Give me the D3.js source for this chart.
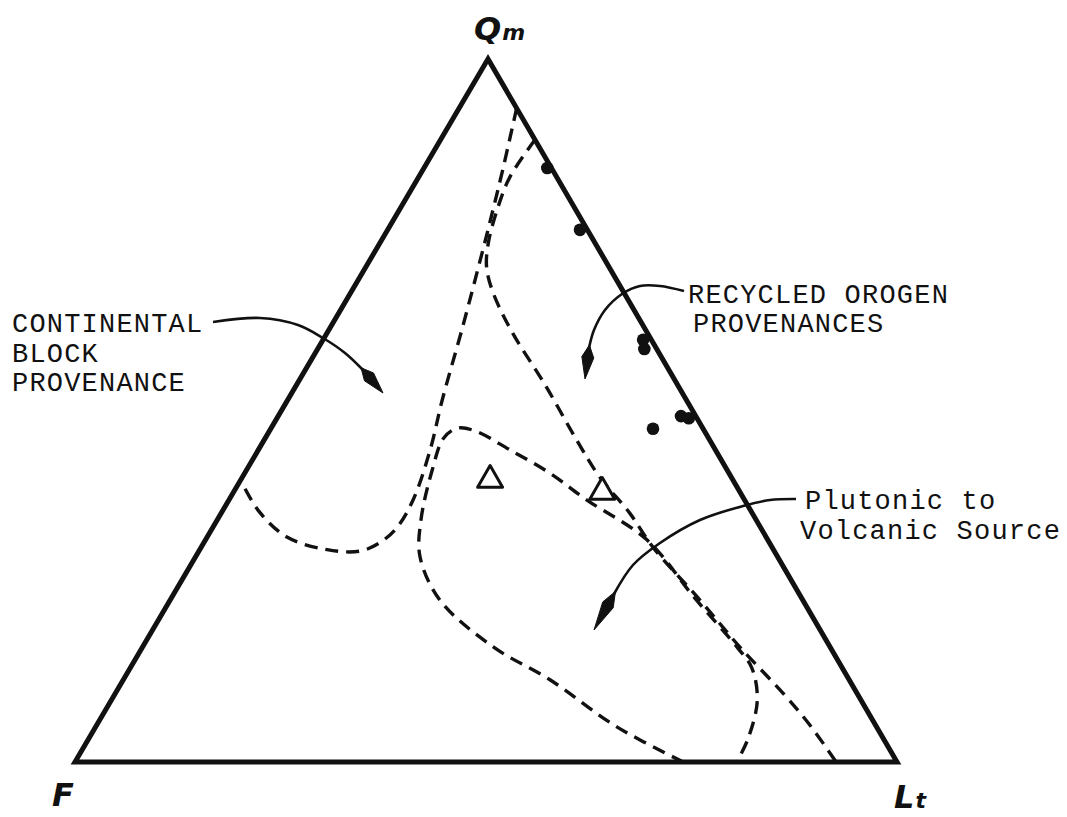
<!DOCTYPE html>
<html>
<head>
<meta charset="utf-8">
<script src="https://cdn.jsdelivr.net/npm/d3@7"></script>
<style>
  html, body { margin: 0; padding: 0; background: #fff; }
  svg { display: block; }
</style>
</head>
<body>
<svg id="chart" width="1067" height="817"></svg>
<script>
// Qm-F-Lt ternary diagram: compositions are [Qm, F, Lt] in percent.
const vertexNames = ["Q", "F", "L"];
const vertexSubs = ["m", "", "t"];

// Field boundaries (dashed)
const continentalBoundary = [
  [93.0, 0.0, 7.0], [84.6, 5.8, 9.6], [78.5, 10.1, 11.4], [72.8, 14.1, 13.0],
  [61.5, 22.4, 16.2], [51.5, 29.7, 18.8], [44.4, 34.7, 20.9], [37.3, 40.3, 22.4],
  [33.3, 44.3, 22.4], [31.2, 47.4, 21.4], [30.0, 50.4, 19.6], [30.2, 54.3, 15.5],
  [32.0, 58.3, 9.7], [35.8, 59.9, 4.3], [40.1, 59.9, 0.0]
];
const recycledBoundary = [
  [88.5, 0.0, 11.5], [83.2, 5.7, 11.1], [78.5, 9.6, 11.9], [73.8, 13.0, 13.2],
  [70.4, 14.9, 14.7], [66.7, 15.9, 17.3], [61.0, 16.4, 22.6], [53.6, 16.1, 30.2],
  [45.8, 16.2, 38.1], [40.5, 16.0, 43.5], [35.4, 14.9, 49.7], [30.6, 14.5, 55.0],
  [23.0, 12.5, 64.5], [16.4, 11.0, 72.7], [9.8, 9.0, 81.2], [5.3, 8.0, 86.8],
  [0.0, 7.4, 92.6]
];
const arcBoundary = [
  [0.0, 26.0, 74.0], [5.0, 31.6, 63.4], [11.7, 36.4, 51.9], [16.4, 41.0, 42.6],
  [23.0, 44.1, 32.8], [29.2, 43.5, 27.3], [34.4, 40.8, 24.8], [41.5, 35.9, 22.6],
  [46.1, 32.2, 21.7], [47.5, 29.8, 22.7], [47.1, 27.9, 25.0], [44.4, 25.0, 30.6],
  [41.1, 21.8, 37.1], [37.3, 19.2, 43.6], [31.6, 14.7, 53.7], [23.3, 13.0, 63.7],
  [16.2, 11.3, 72.5], [13.4, 11.0, 75.6], [8.8, 12.6, 78.5], [3.4, 16.4, 80.2],
  [0.0, 19.5, 80.5]
];

// Sample compositions
const dotSamples = [
  [84.5, 0.5, 15.0], [75.7, 0.9, 23.4], [60.0, 1.0, 38.9], [58.7, 1.5, 39.7],
  [49.2, 1.8, 49.0], [48.9, 1.0, 50.1], [47.4, 6.1, 46.5]
];
const triangleSamples = [
  [40.4, 29.4, 30.2], [38.7, 16.6, 44.7]
];

// Field labels
const continentalLines = ["CONTINENTAL", "BLOCK", "PROVENANCE"];
const recycledLines = ["RECYCLED OROGEN", "PROVENANCES"];
const magmaticLines = ["Plutonic to", "Volcanic Source"];

const svg = d3.select("#chart");

// Projection: Lt fraction (plus apex offset) across, Qm fraction up
const apexShift = (488 - 75) / (897 - 75);
const xs = d3.scaleLinear().domain([0, 100]).range([75, 897]);
const ys = d3.scaleLinear().domain([0, 100]).range([762, 59]);
const proj = d => {
  const s = d[0] + d[1] + d[2];
  const q = d[0] / s * 100, l = d[2] / s * 100;
  return [xs(l + q * apexShift), ys(q)];
};

const corners = [[100, 0, 0], [0, 100, 0], [0, 0, 100]];

// Dashed field boundaries
const dashed = d3.line().x(d => proj(d)[0]).y(d => proj(d)[1])
  .curve(d3.curveCatmullRom.alpha(0.5));
[continentalBoundary, recycledBoundary, arcBoundary].forEach(b => {
  svg.append("path")
    .attr("d", dashed(b))
    .attr("fill", "none")
    .attr("stroke", "#111")
    .attr("stroke-width", 3.4)
    .attr("stroke-dasharray", "13,8")
    .attr("stroke-linecap", "butt");
});

// Triangle frame
svg.append("path")
  .attr("d", d3.line()(corners.map(proj)) + "Z")
  .attr("fill", "none")
  .attr("stroke", "#111")
  .attr("stroke-width", 5)
  .attr("stroke-linejoin", "miter");

// Samples
svg.selectAll("circle.sample").data(dotSamples).join("circle")
  .attr("class", "sample")
  .attr("cx", d => proj(d)[0])
  .attr("cy", d => proj(d)[1])
  .attr("r", 6.3)
  .attr("fill", "#111");

const tri = d3.symbol().type(d3.symbolTriangle).size(270);
svg.selectAll("path.tri").data(triangleSamples).join("path")
  .attr("class", "tri")
  .attr("transform", d => `translate(${proj(d)[0]},${proj(d)[1] + 2})`)
  .attr("d", tri)
  .attr("fill", "#fff")
  .attr("stroke", "#111")
  .attr("stroke-width", 3)
  .attr("stroke-linejoin", "round");

// Curved pointer arrows with kite-shaped heads
const arrowLine = d3.line().curve(d3.curveCatmullRom.alpha(0.5));
function pointer(pts, tip) {
  svg.append("path")
    .attr("d", arrowLine(pts))
    .attr("fill", "none")
    .attr("stroke", "#111")
    .attr("stroke-width", 2.6);
  const b = pts[pts.length - 1];
  const dx = tip[0] - b[0], dy = tip[1] - b[1];
  const len = Math.hypot(dx, dy);
  const ux = dx / len, uy = dy / len, nx = -uy, ny = ux;
  const m = [b[0] + ux * len * 0.3, b[1] + uy * len * 0.3];
  const w = 6;
  const poly = [
    [b[0] - ux * 3, b[1] - uy * 3],
    [m[0] + nx * w, m[1] + ny * w],
    tip,
    [m[0] - nx * w, m[1] - ny * w]
  ];
  svg.append("path")
    .attr("d", d3.line()(poly) + "Z")
    .attr("fill", "#111")
    .attr("stroke", "#111")
    .attr("stroke-width", 1);
}
pointer([[213, 322], [260, 318], [298, 325], [323, 338], [345, 353], [363, 370]], [383, 393]);
pointer([[684, 291], [660, 286], [640, 286], [622, 294], [605, 310], [594, 330], [589, 348]], [585, 379]);
pointer([[796, 499], [770, 500], [743, 506], [700, 520], [660, 543], [633, 565], [614, 594]], [594, 630]);

// Field labels
const mono = "'Liberation Mono', 'DejaVu Sans Mono', monospace";
function block(lines, x0, y0, dy, xs2) {
  lines.forEach((t, i) => {
    svg.append("text")
      .attr("x", x0 + (xs2 ? xs2[i] : 0))
      .attr("y", y0 + i * dy)
      .attr("font-family", mono)
      .attr("font-size", 27)
      .attr("letter-spacing", 1.2)
      .attr("fill", "#111")
      .text(t);
  });
}
block(continentalLines, 12, 332, 29.5);
block(recycledLines, 688, 303, 29, [0, 5]);
block(magmaticLines, 800, 509, 30, [5, 0]);

// Vertex labels
const vlabels = [
  { x: 474, y: 40 },
  { x: 52, y: 806 },
  { x: 894, y: 808 }
];
vertexNames.forEach((n, i) => {
  const t = svg.append("text")
    .attr("x", vlabels[i].x)
    .attr("y", vlabels[i].y)
    .attr("font-family", "'DejaVu Sans', sans-serif")
    .attr("font-weight", "bold")
    .attr("font-style", "italic")
    .attr("font-size", 32)
    .attr("fill", "#111");
  t.append("tspan").text(n);
  if (vertexSubs[i]) t.append("tspan").attr("font-size", 22).attr("dx", 1).text(vertexSubs[i]);
});
</script>
</body>
</html>
